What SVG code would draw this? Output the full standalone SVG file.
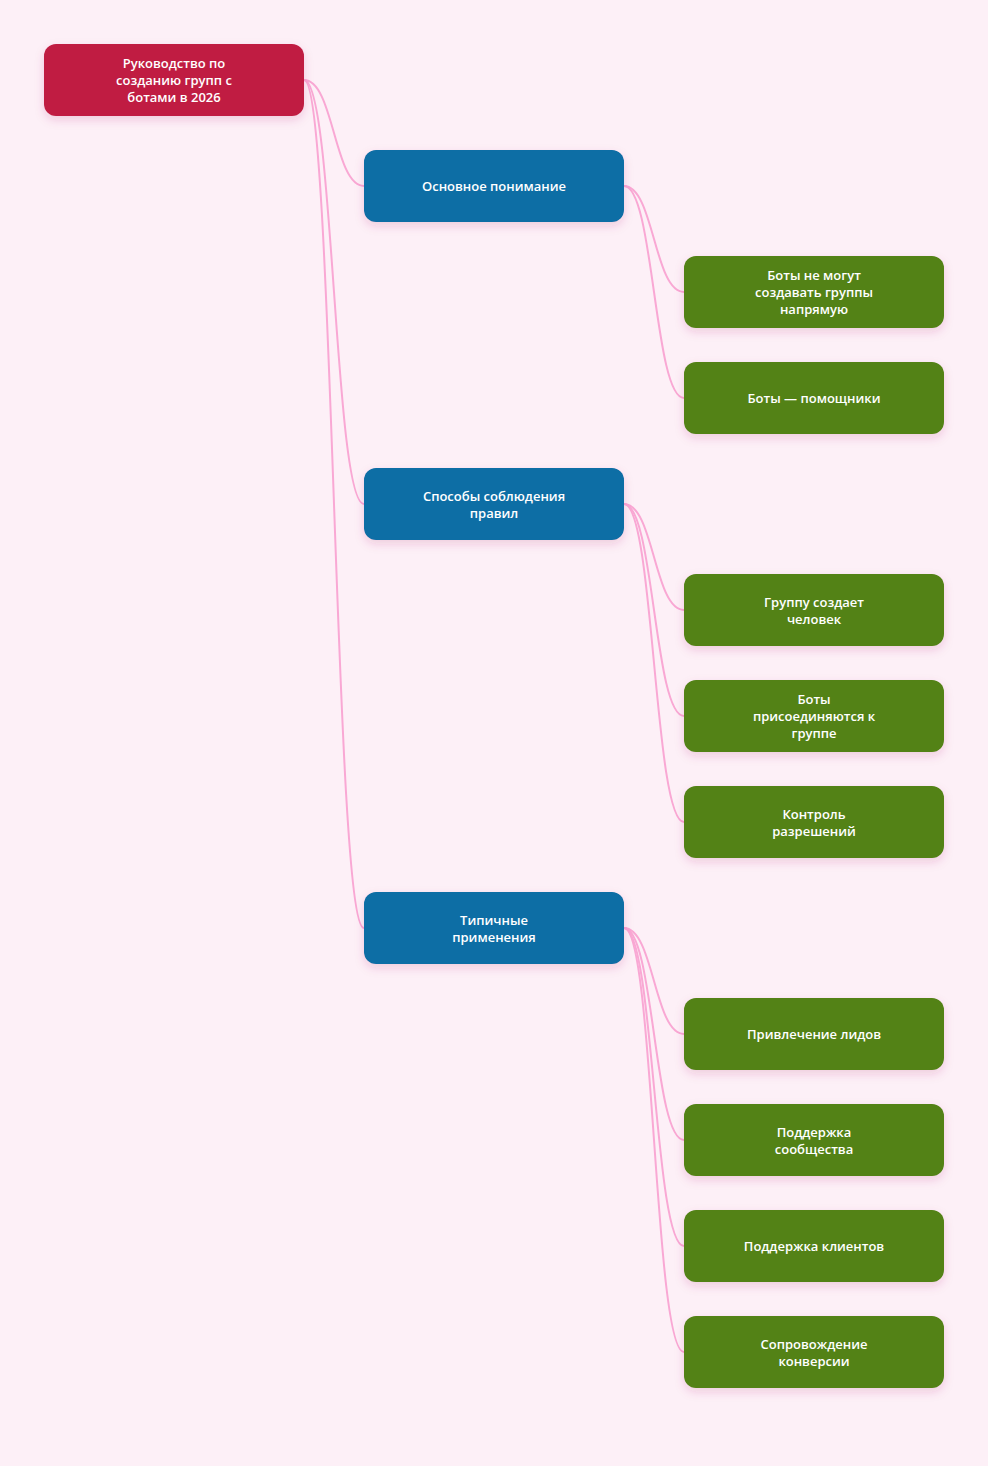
<svg xmlns="http://www.w3.org/2000/svg" width="988" height="1466" viewBox="0 0 988 1466">
<defs>
<filter id="sh" x="-20%" y="-30%" width="140%" height="170%">
<feDropShadow dx="0" dy="4" stdDeviation="5" flood-color="#b0306a" flood-opacity="0.18"/>
</filter>
<style>
.n rect{filter:url(#sh)}
.root rect{fill:#C01F43}
.l1 rect{fill:#0B6EA5}
.l2 rect{fill:#538216}
text{fill:#ffffff;font-family:"Open Sans","Noto Sans","DejaVu Sans",sans-serif;font-weight:600;font-size:13px;text-anchor:middle}
#links path{fill:none;stroke:#F9A8D4;stroke-width:2}
</style>
</defs>
<rect x="0" y="0" width="988" height="1466" fill="#FDF0F7"/>
<g id="links">
<path d="M304,80 C334,80 334,186 364,186"/>
<path d="M304,80 C334,80 334,504 364,504"/>
<path d="M304,80 C334,80 334,928 364,928"/>
<path d="M624,186 C654,186 654,292 684,292"/>
<path d="M624,186 C654,186 654,398 684,398"/>
<path d="M624,504 C654,504 654,610 684,610"/>
<path d="M624,504 C654,504 654,716 684,716"/>
<path d="M624,504 C654,504 654,822 684,822"/>
<path d="M624,928 C654,928 654,1034 684,1034"/>
<path d="M624,928 C654,928 654,1140 684,1140"/>
<path d="M624,928 C654,928 654,1246 684,1246"/>
<path d="M624,928 C654,928 654,1352 684,1352"/>
</g>
<g id="root" class="n root">
<rect x="44" y="44" width="260" height="72" rx="12"/>
<text x="174" y="68">Руководство по</text>
<text x="174" y="85">созданию групп с</text>
<text x="174" y="102">ботами в 2026</text>
</g>
<g id="n1" class="n l1">
<rect x="364" y="150" width="260" height="72" rx="12"/>
<text x="494" y="191">Основное понимание</text>
</g>
<g id="n2" class="n l1">
<rect x="364" y="468" width="260" height="72" rx="12"/>
<text x="494" y="501">Способы соблюдения</text>
<text x="494" y="518">правил</text>
</g>
<g id="n3" class="n l1">
<rect x="364" y="892" width="260" height="72" rx="12"/>
<text x="494" y="925">Типичные</text>
<text x="494" y="942">применения</text>
</g>
<g id="n1a" class="n l2">
<rect x="684" y="256" width="260" height="72" rx="12"/>
<text x="814" y="280">Боты не могут</text>
<text x="814" y="297">создавать группы</text>
<text x="814" y="314">напрямую</text>
</g>
<g id="n1b" class="n l2">
<rect x="684" y="362" width="260" height="72" rx="12"/>
<text x="814" y="403">Боты — помощники</text>
</g>
<g id="n2a" class="n l2">
<rect x="684" y="574" width="260" height="72" rx="12"/>
<text x="814" y="607">Группу создает</text>
<text x="814" y="624">человек</text>
</g>
<g id="n2b" class="n l2">
<rect x="684" y="680" width="260" height="72" rx="12"/>
<text x="814" y="704">Боты</text>
<text x="814" y="721">присоединяются к</text>
<text x="814" y="738">группе</text>
</g>
<g id="n2c" class="n l2">
<rect x="684" y="786" width="260" height="72" rx="12"/>
<text x="814" y="819">Контроль</text>
<text x="814" y="836">разрешений</text>
</g>
<g id="n3a" class="n l2">
<rect x="684" y="998" width="260" height="72" rx="12"/>
<text x="814" y="1039">Привлечение лидов</text>
</g>
<g id="n3b" class="n l2">
<rect x="684" y="1104" width="260" height="72" rx="12"/>
<text x="814" y="1137">Поддержка</text>
<text x="814" y="1154">сообщества</text>
</g>
<g id="n3c" class="n l2">
<rect x="684" y="1210" width="260" height="72" rx="12"/>
<text x="814" y="1251">Поддержка клиентов</text>
</g>
<g id="n3d" class="n l2">
<rect x="684" y="1316" width="260" height="72" rx="12"/>
<text x="814" y="1349">Сопровождение</text>
<text x="814" y="1366">конверсии</text>
</g>
</svg>
